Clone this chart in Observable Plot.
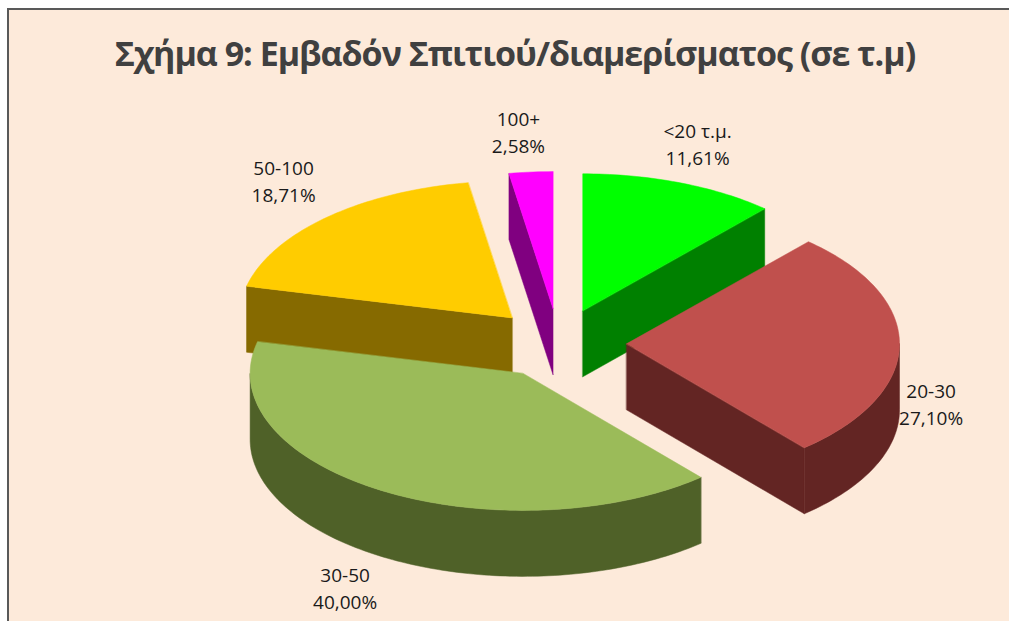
<!DOCTYPE html>
<html lang="el">
<head>
<meta charset="utf-8">
<script src="https://cdn.jsdelivr.net/npm/d3@7"></script>
<script src="https://cdn.jsdelivr.net/npm/@observablehq/plot@0.6"></script>
<style>
  html, body { margin: 0; padding: 0; background: #fff; overflow: hidden; width: 1009px; height: 621px; }
  #frame { position: absolute; left: 7px; top: 8px; right: 0; bottom: 0; box-sizing: border-box;
           background: #FDEADA; border-left: 2px solid #595959; border-top: 2px solid #595959; }
  #title { position: absolute; left: 0; width: 1030px; top: 31px; text-align: center; white-space: nowrap;
           font: bold 34px "Open Sans", sans-serif; letter-spacing: -1px; color: #404040; line-height: 45px; }
  #chart { position: absolute; left: 0; top: 0; }
  #chart svg { background: transparent; }
</style>
</head>
<body>
<div id="frame"></div>
<div id="title">Σχήμα 9: Εμβαδόν Σπιτιού/διαμερίσματος (σε τ.μ)</div>
<div id="chart"></div>
<script>
// Data
const categories = ["<20 τ.μ.", "20-30", "30-50", "50-100", "100+"];
const shares = [11.61, 27.10, 40.00, 18.71, 2.58];
const shareLabels = ["11,61%", "27,10%", "40,00%", "18,71%", "2,58%"];
const topColors = ["#00FF00", "#C0504D", "#9BBB59", "#FFCC00", "#FF00FF"];
const wallColors = ["#008000", "#632523", "#4F6128", "#866A00", "#800080"];

// Pie layout, in page pixels (used as the domain of both position scales)
const centre = [558, 343], radiusX = 273, radiusY = 137, depth = 66, explodeX = 68, explodeY = 35;
const labelRing = 1.2;
const labelNudge = [[-2, -14], [-23, 57], [-7.5, 72.7], [-5.3, -17.4], [-8, -14]];
const drawOrder = [0, 4, 3, 1, 2];

const total = d3.sum(shares);
const turn = Math.PI * 2;
let running = 0;
const slices = shares.map((v, i) => {
  const a0 = running / total * turn;
  running += v;
  const a1 = running / total * turn;
  const mid = (a0 + a1) / 2;
  return {i, a0, a1, mid,
    ax: centre[0] + explodeX * Math.sin(mid),
    ay: centre[1] - explodeY * Math.cos(mid)};
});
const rim = (s, a) => [s.ax + radiusX * Math.sin(a), s.ay - radiusY * Math.cos(a)];
const arcPts = (s, from, to) => {
  const n = Math.max(2, Math.ceil((to - from) / 0.02));
  return d3.range(n + 1).map(k => rim(s, from + (to - from) * k / n));
};
const down = p => [p[0], p[1] + depth];
const toRows = pts => pts.map(([x, y]) => ({x, y}));
const polygon = (pts, fill) => Plot.line(toRows(pts), {x: "x", y: "y", fill, stroke: fill, strokeWidth: 0.5, curve: "linear-closed"});

const marks = [];
for (const i of drawOrder) {
  const s = slices[i];
  const apex = [s.ax, s.ay];
  const wall = wallColors[i], top = topColors[i];
  // Radial wall on the clockwise-start edge, visible when it faces the viewer
  if (Math.cos(s.a0) > -0.2 && Math.sin(s.a0) < 0) {
    const e = rim(s, s.a0);
    marks.push(polygon([apex, e, down(e), down(apex)], wall));
  }
  // Radial wall on the clockwise-end edge, visible on the right half
  if (Math.sin(s.a1) > 0) {
    const e = rim(s, s.a1);
    marks.push(polygon([apex, e, down(e), down(apex)], wall));
  }
  // Outer curved wall: only the part on the near side of the pie
  const from = Math.max(s.a0, turn / 4), to = Math.min(s.a1, turn * 3 / 4);
  if (to > from) {
    const arc = arcPts(s, from, to);
    marks.push(polygon([...arc, ...arc.map(down).reverse()], wall));
  }
  marks.push(polygon([apex, ...arcPts(s, s.a0, s.a1)], top));
}

const labels = slices.map((s, i) => {
  const p = rim({ax: s.ax, ay: s.ay}, s.mid);
  return {
    x: s.ax + (p[0] - s.ax) * labelRing + labelNudge[i][0],
    y: s.ay + (p[1] - s.ay) * labelRing + labelNudge[i][1],
    text: categories[i] + "\n" + shareLabels[i]
  };
});
marks.push(Plot.text(labels, {x: "x", y: "y", text: "text", fontSize: 19, lineHeight: 1.42, fill: "#1a1a1a",
  fontFamily: "Open Sans, sans-serif"}));

const plot = Plot.plot({
  width: 1009, height: 621,
  marginTop: 0, marginRight: 0, marginBottom: 0, marginLeft: 0,
  x: {domain: [0, 1009], range: [0, 1009], axis: null},
  y: {domain: [0, 621], range: [0, 621], axis: null},
  marks
});
document.getElementById("chart").append(plot);
</script>
</body>
</html>
